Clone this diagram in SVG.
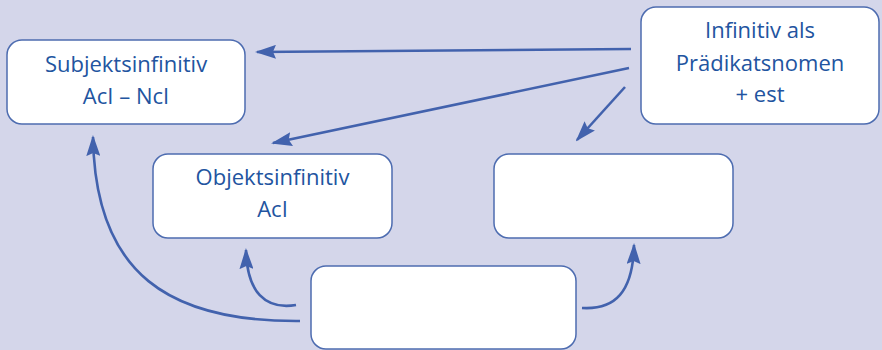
<svg xmlns="http://www.w3.org/2000/svg" width="882" height="350" viewBox="0 0 882 350">
<defs>
<style>
.box{fill:#fff;stroke:#4d6cb0;stroke-width:1.5}
.t{font-family:"Open Sans","Noto Sans",sans-serif;font-size:22px;fill:#2254a0;text-anchor:middle}
.c{fill:none;stroke:#4262ad;stroke-width:2.6}
</style>
<marker id="ah" viewBox="0 0 21 14" refX="19" refY="7" markerWidth="21" markerHeight="14" markerUnits="userSpaceOnUse" orient="auto">
<path d="M0,0 L21,7 L0,14 L3,7 z" fill="#4262ad"/>
</marker>
</defs>
<rect width="882" height="350" fill="#d4d6ea"/>
<g id="connectors">
<path class="c" d="M631,49 L257,52" marker-end="url(#ah)"/>
<path class="c" d="M629,68 L273,143" marker-end="url(#ah)"/>
<path class="c" d="M625,87 L577,140" marker-end="url(#ah)"/>
<path class="c" d="M300,321 C170,322 95,275 93,137" marker-end="url(#ah)"/>
<path class="c" d="M296,305 C265,310 247,292 246,250" marker-end="url(#ah)"/>
<path class="c" d="M582,308 C615,310 633,292 634,245" marker-end="url(#ah)"/>
</g>
<g id="subjekt">
<rect class="box" x="7" y="40" width="238" height="84" rx="15"/>
<text class="t" x="126" y="72">Subjektsinfinitiv</text>
<text class="t" x="126" y="104">AcI – NcI</text>
</g>
<g id="praedikat">
<rect class="box" x="641" y="7" width="238" height="117" rx="15"/>
<text class="t" x="760" y="38">Infinitiv als</text>
<text class="t" x="760" y="71">Prädikatsnomen</text>
<text class="t" x="760" y="102">+ est</text>
</g>
<g id="objekt">
<rect class="box" x="153" y="154" width="239" height="84" rx="15"/>
<text class="t" x="272.5" y="185">Objektsinfinitiv</text>
<text class="t" x="272.5" y="217">AcI</text>
</g>
<g id="leer1">
<rect class="box" x="494" y="154" width="239" height="84" rx="15"/>
</g>
<g id="leer2">
<rect class="box" x="311" y="266" width="265" height="83" rx="15"/>
</g>
</svg>
